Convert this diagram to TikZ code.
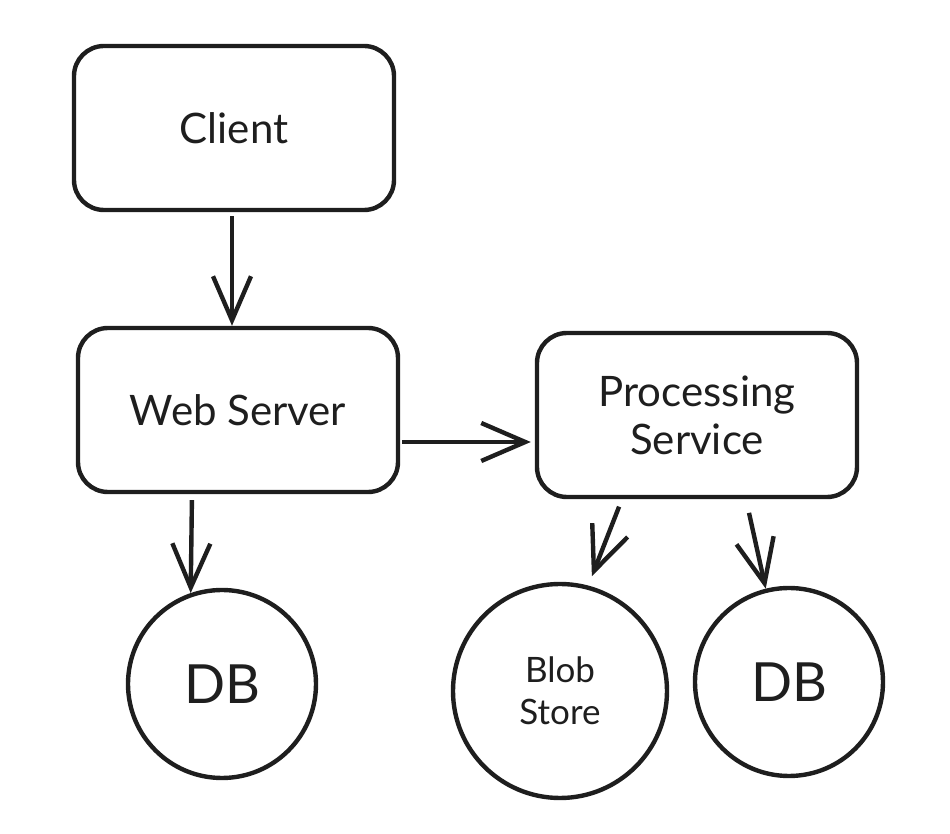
\documentclass[tikz,border=0pt]{standalone}
\usepackage{fontspec}
\setmainfont{Lato}
\usetikzlibrary{arrows.meta}
\definecolor{ink}{HTML}{1E1E1E}
\begin{document}
\begin{tikzpicture}[x=0.5pt, y=-0.5pt, line width=2.2pt, color=ink,
  >={Straight Barb[length=22pt, width=19pt, line width=2.2pt]},
  box/.style={draw, rounded corners=15pt, minimum width=160pt, minimum height=82pt,
    align=center, font=\fontsize{21}{24}\selectfont},
  store/.style={draw, circle, inner sep=0pt, align=center}]
\useasboundingbox (0,0) rectangle (950,834);
% boxes
\node[box] (client) at (234,128) {Client};
\node[box] (web) at (238,410) {Web Server};
\node[box] (proc) at (697,415) {Processing\\Service};
% stores
\node[store, minimum size=94pt, font=\fontsize{27}{30}\selectfont] (db1) at (222,684) {DB};
\node[store, minimum size=107pt, font=\fontsize{17.5}{21}\selectfont] (blob) at (560,691) {Blob\\Store};
\node[store, minimum size=94pt, font=\fontsize{27}{30}\selectfont] (db2) at (789,682) {DB};
% arrows
\draw[->, shorten <=2pt] ([xshift=-1pt]client.south) -- ([xshift=-1pt]client.south |- web.north);
\draw[->, shorten <=3pt] ([xshift=-23pt]web.south) -- (db1.109);
\draw[->, shorten <=1pt, shorten >=2pt] ([yshift=-16pt]web.east) -- ([yshift=-16pt]web.east -| proc.west);
\draw[->, shorten <=4pt, shorten >=5pt] ([xshift=-37.5pt]proc.south) -- (blob.75);
\draw[->, shorten <=7pt] ([xshift=24.5pt]proc.south) -- (db2.104);
\end{tikzpicture}
\end{document}
